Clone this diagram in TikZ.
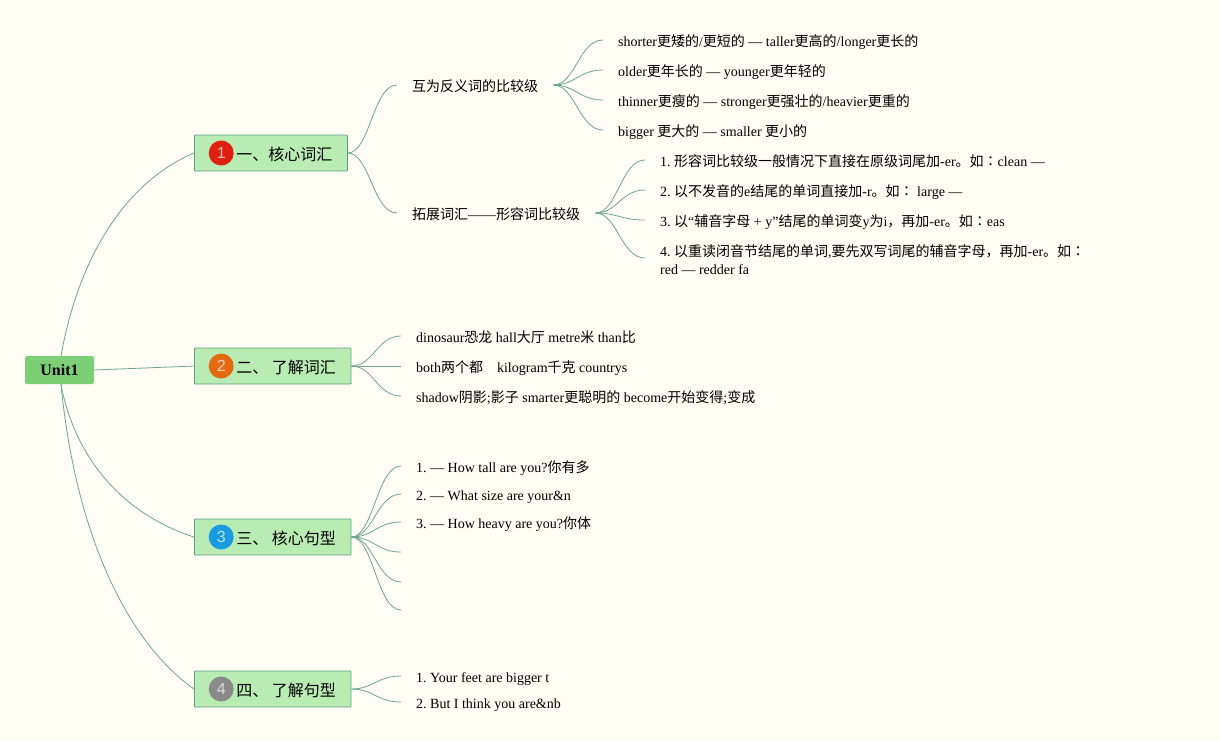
\documentclass[tikz,border=0pt]{standalone}
\usepackage{fontspec}
\setmainfont{Liberation Serif}
\newfontfamily\cjkfont{Noto Sans CJK SC}
\newfontfamily\colonfont{Noto Sans CJK TC}
\newfontfamily\badgefont{Liberation Sans}
\newcommand{\zh}[1]{{\cjkfont #1}}
\newcommand{\zcolon}{{\colonfont ：}}
\usetikzlibrary{positioning}
\definecolor{paper}{HTML}{FFFDF4}
\definecolor{linkcol}{HTML}{6FA594}
\definecolor{boxfill}{HTML}{B9ECB2}
\definecolor{boxline}{HTML}{5F9E85}
\definecolor{rootfill}{HTML}{7DCF75}
\definecolor{badgered}{HTML}{DF2010}
\definecolor{badgeorange}{HTML}{E36A12}
\definecolor{badgeblue}{HTML}{1B9BDF}
\definecolor{badgegray}{HTML}{8A8A8A}
\frenchspacing

\begin{document}
\begin{tikzpicture}[
    x=1pt, y=-1pt,
    font=\fontsize{14}{18}\selectfont,
    root/.style={rectangle, rounded corners=2pt, fill=rootfill, minimum width=69pt, minimum height=28pt, inner sep=0pt, font=\fontsize{16}{18}\selectfont\bfseries},
    branch/.style={rectangle, anchor=west, draw=boxline, fill=boxfill, line width=0.8pt, rounded corners=0.8pt, minimum height=36pt, inner xsep=15pt, inner ysep=0pt, font=\fontsize{16}{18}\selectfont, execute at begin node=\rule[-5pt]{0pt}{24pt}},
    badge/.style={circle, minimum size=25pt, inner sep=0pt, text=white, text opacity=0.7, font=\fontsize{16}{18}\badgefont},
    leaf/.style={anchor=west, align=left, inner xsep=15pt, inner ysep=0pt, execute at begin node=\rule[-5pt]{0pt}{23.2pt}},
    link/.style={line width=0.8pt, draw=linkcol}
]

\newcommand{\boxtext}[1]{\hspace*{27pt}\zh{#1}}

\fill[paper] (0,0) rectangle (1220,740);
\useasboundingbox (0,0) rectangle (1220,740);

\node[root] (unit) at (59.5,370) {Unit1};

\node[branch] (vocab) at (194,153) {\boxtext{一、核心词汇}};
\node[branch] (learn) at (194,366) {\boxtext{二、 了解词汇}};
\node[branch] (core) at (194,537) {\boxtext{三、 核心句型}};
\node[branch] (know) at (194,689) {\boxtext{四、 了解句型}};

\node[badge, fill=badgered, right=14.5pt of vocab.west] (badgea) {1};
\node[badge, fill=badgeorange, right=14.5pt of learn.west] (badgeb) {2};
\node[badge, fill=badgeblue, right=14.5pt of core.west] (badgec) {3};
\node[badge, fill=badgegray, right=14.5pt of know.west] (badged) {4};

\node[leaf] (anto) at (397,85) {\zh{互为反义词的比较级}};
\node[leaf] (ext) at (397,213) {\zh{拓展词汇}——\zh{形容词比较级}};

\node[leaf] (antoa) at (603,40) {shorter\zh{更矮的}/\zh{更短的} — taller\zh{更高的}/longer\zh{更长的}};
\node[leaf] (antob) at (603,70) {older\zh{更年长的} — younger\zh{更年轻的}};
\node[leaf] (antoc) at (603,100) {thinner\zh{更瘦的} — stronger\zh{更强壮的}/heavier\zh{更重的}};
\node[leaf] (antod) at (603,130) {bigger \zh{更大的} — smaller \zh{更小的}};

\node[leaf] (exta) at (645,160) {1. \zh{形容词比较级一般情况下直接在原级词尾加}-er\zh{。如}\zcolon clean —};
\node[leaf] (extb) at (645,190) {2. \zh{以不发音的}e\zh{结尾的单词直接加}-r\zh{。如}\zcolon{} large —};
\node[leaf] (extc) at (645,220) {3. \zh{以}“\zh{辅音字母} + y”\zh{结尾的单词变}y\zh{为}i\zh{，再加}-er\zh{。如}\zcolon eas};
\node[leaf] (extd) at (645,262.5) {4. \zh{以重读闭音节结尾的单词},\zh{要先双写词尾的辅音字母，再加}-er\zh{。如}\zcolon\\red — redder fa};

\node[leaf] (learna) at (401,336) {dinosaur\zh{恐龙} hall\zh{大厅} metre\zh{米} than\zh{比}};
\node[leaf] (learnb) at (401,366) {both\zh{两个都}\hspace{14pt}kilogram\zh{千克} countrys};
\node[leaf] (learnc) at (401,396) {shadow\zh{阴影};\zh{影子} smarter\zh{更聪明的} become\zh{开始变得};\zh{变成}};

\node[leaf] (corea) at (401,466) {1. — How tall are you?\zh{你有多}};
\node[leaf] (coreb) at (401,494) {2. — What size are your\&n};
\node[leaf] (corec) at (401,522) {3. — How heavy are you?\zh{你体}};
\node[leaf] (cored) at (401,552) {};
\node[leaf] (coree) at (401,582) {};
\node[leaf] (coref) at (401,610) {};

\node[leaf] (knowa) at (401,676) {1. Your feet are bigger t};
\node[leaf] (knowb) at (401,702) {2. But I think you are\&nb};

\draw[link] (unit.84) .. controls (80,250) and (130,180) .. (vocab.west);
\draw[link] (unit.east) -- (learn.west);
\draw[link] (unit.-84) .. controls (75,460) and (125,515) .. (core.west);
\draw[link] (unit.-84) .. controls (75,530) and (125,640) .. (know.west);

\foreach \a/\b in {vocab/anto,vocab/ext,anto/antoa,anto/antob,anto/antoc,anto/antod,ext/exta,ext/extb,ext/extc,learn/learna,learn/learnb,learn/learnc,core/corea,core/coreb,core/corec,core/cored,core/coree,core/coref,know/knowa,know/knowb}
    \draw[link] (\a.east) .. controls +(22,0) and +(-24,0) .. (\b.west);
\draw[link] (ext.east) .. controls +(22,0) and +(-24,0) .. ([yshift=4.5pt]extd.west);

\end{tikzpicture}
\end{document}
